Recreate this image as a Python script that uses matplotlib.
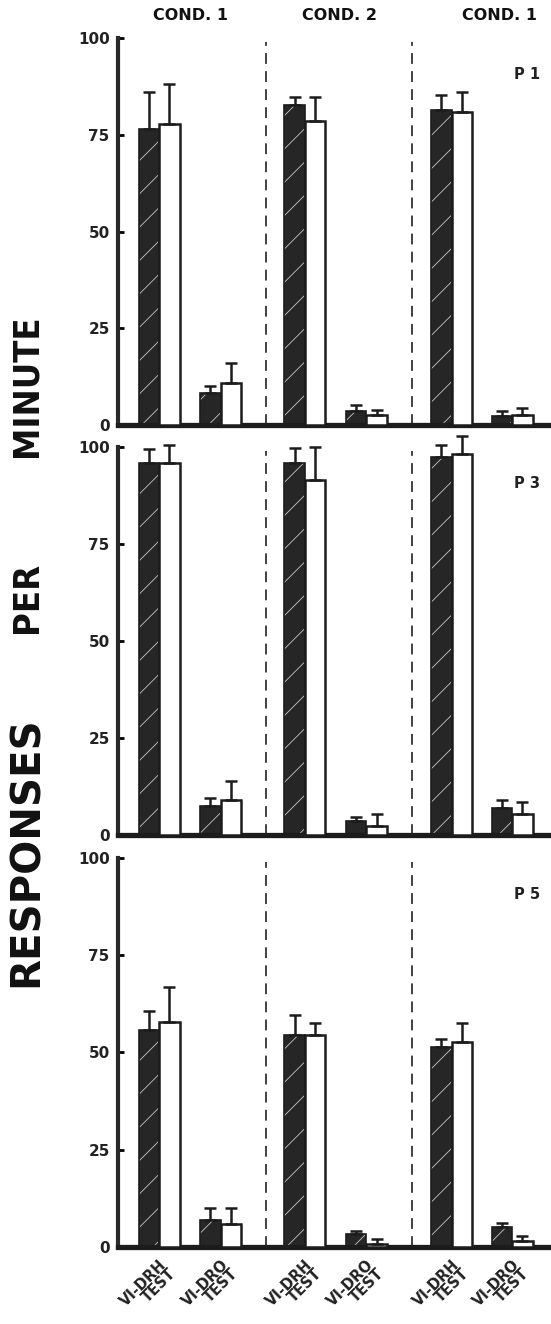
import matplotlib
matplotlib.use("Agg")
import matplotlib.pyplot as plt
import numpy as np

plt.rcParams['font.family'] = ['DejaVu Sans']
plt.rcParams['hatch.linewidth'] = 0.6

# responses per minute, one value per bar pair (cond.1 DRH, cond.1 DRO, cond.2 DRH, cond.2 DRO, cond.1 DRH, cond.1 DRO)
subjects = ["P 1", "P 3", "P 5"]
vi_means = [
    [76.4, 8.3, 82.6, 3.7, 81.4, 2.4],
    [96.0, 7.5, 95.8, 3.6, 97.5, 7.0],
    [55.8, 7.0, 54.6, 3.2, 51.3, 5.1],
]
vi_err = [
    [9.6, 1.9, 2.2, 1.4, 4.0, 1.3],
    [3.4, 2.0, 3.9, 1.0, 3.0, 2.0],
    [4.9, 3.1, 5.0, 0.8, 2.2, 1.1],
]
test_means = [
    [77.9, 10.9, 78.5, 2.6, 81.0, 2.6],
    [96.0, 9.0, 91.5, 2.4, 98.2, 5.3],
    [57.8, 6.0, 54.6, 0.7, 52.7, 1.4],
]
test_err = [
    [10.1, 5.1, 6.3, 1.4, 5.0, 1.7],
    [4.6, 5.0, 8.5, 3.0, 4.6, 3.1],
    [9.0, 4.0, 2.9, 1.3, 4.8, 1.3],
]
pair_labels = ["VI-DRH\nTEST", "VI-DRO\nTEST"] * 3
conditions = ["COND. 1", "COND. 2", "COND. 1"]
yticks = [0, 25, 50, 75, 100]

# bar layout (units of one bar width)
pair_x = np.array([2.0, 5.0, 9.1, 12.1, 16.25, 19.2])
dividers = [7.2, 14.3]
w = 1.0
dark = "#262626"
ink = "#1c1c1c"

fig = plt.figure(figsize=(5.51, 13.24), dpi=100)
panel_boxes = [(0.679, 0.2923), (0.3693, 0.2930), (0.0582, 0.2938)]

for k in range(3):
    b, h = panel_boxes[k]
    ax = fig.add_axes([0.2142, b, 0.786, h])

    # dark VI bars: hatch first, then outline on top
    ax.bar(pair_x - w / 2, vi_means[k], w, color=dark, edgecolor="#c8c8c8",
           hatch="/", linewidth=0, zorder=2)
    ax.bar(pair_x - w / 2, vi_means[k], w, fill=False, edgecolor=ink,
           linewidth=1.2, zorder=3)
    ax.bar(pair_x + w / 2, test_means[k], w, color="white", edgecolor=ink,
           linewidth=1.8, zorder=3)

    # upward error bars only
    zeros = np.zeros(6)
    ax.errorbar(pair_x - w / 2, vi_means[k], yerr=[zeros, vi_err[k]], fmt="none",
                ecolor=ink, elinewidth=1.8, capsize=4, capthick=1.8,
                zorder=4, clip_on=False)
    ax.errorbar(pair_x + w / 2, test_means[k], yerr=[zeros, test_err[k]], fmt="none",
                ecolor=ink, elinewidth=1.8, capsize=4, capthick=1.8,
                zorder=4, clip_on=False)

    for d in dividers:
        ax.plot([d, d], [0, 99], color="#333333", linewidth=1.3,
                dashes=(6, 4), zorder=1)

    ax.set_xlim(0, 21.1)
    ax.set_ylim(0, 100)
    ax.spines["top"].set_visible(False)
    ax.spines["right"].set_visible(False)
    ax.spines["left"].set_linewidth(3.0)
    ax.spines["left"].set_color("#2a2a2a")
    ax.spines["bottom"].set_linewidth(3.8)
    ax.spines["bottom"].set_color(ink)

    ax.set_yticks(yticks)
    ax.set_yticklabels([str(t) for t in yticks], fontsize=11, fontweight="bold",
                       color="#222222")
    ax.tick_params(axis="y", direction="in", length=4, width=2, pad=6)
    ax.set_xticks(pair_x)
    if k == 2:
        ax.set_xticklabels(pair_labels, rotation=45, ha="right", va="top",
                           rotation_mode="anchor", fontsize=10.5,
                           fontweight="bold", linespacing=0.85,
                           multialignment="right", color="#222222")
        ax.tick_params(axis="x", length=0, pad=7)
    else:
        ax.set_xticklabels([])
        ax.tick_params(axis="x", length=0)

    ax.text(0.945, 0.905, subjects[k], transform=ax.transAxes, fontsize=10.5,
            fontweight="bold", ha="center", va="center", color="#222222")

for cx, lab in zip([0.345, 0.617, 0.907], conditions):
    fig.text(cx, 0.9885, lab, fontsize=11.5, fontweight="bold", ha="center",
             va="center", color="#111111")

# y axis title, split into three words
fig.text(0.049, 0.3565, "RESPONSES", rotation=90, fontsize=29, fontweight="bold",
         ha="center", va="center", color="#111111")
for wy, word in zip([0.549, 0.709], ["PER", "MINUTE"]):
    fig.text(0.049, wy, word, rotation=90, fontsize=26, fontweight="bold",
             stretch="condensed", ha="center", va="center", color="#111111")

fig.savefig("out.png", dpi=100)
